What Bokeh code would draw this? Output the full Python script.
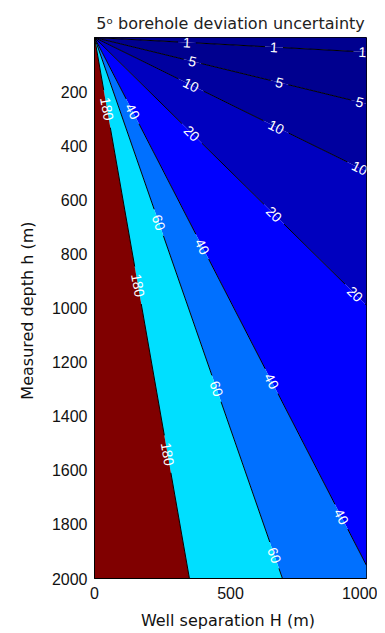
import math
from bokeh.plotting import figure
from bokeh.models import Range1d, FixedTicker
from bokeh.core.properties import value
from bokeh.embed import file_html
from bokeh.resources import INLINE

# ---- data ----
levels = [1, 5, 10, 20, 40, 60, 180]
# point where each contour line (starting at the origin) meets the frame
end_H = [1000, 1000, 1000, 1000, 1000, 691, 349]
end_h = [54, 245, 495, 990, 1952, 2000, 2000]
# fractions along each contour where its labels sit
label_pos = [
    [0.34, 0.66, 0.985],
    [0.36, 0.68, 0.975],
    [0.355, 0.668, 0.975],
    [0.358, 0.66, 0.958],
    [0.14, 0.396, 0.651, 0.9075],
    [0.342, 0.649, 0.957],
    [0.132, 0.458, 0.77],
]
region_colors = ["#00008F", "#00008F", "#00009F", "#0000BF", "#0000FF",
                 "#0070FF", "#00DFFF", "#800000"]
x_ticks = [0, 500, 1000]
y_ticks = [200, 400, 600, 800, 1000, 1200, 1400, 1600, 1800, 2000]

H_max, h_max = 1000, 2000
FONT = "Liberation Sans"
FONT_WIDE = "DejaVu Sans"

W, HGT = 377, 632
ML, MR, MT, MB = 94, 11, 37, 54
frame_w = W - ML - MR
frame_h = HGT - MT - MB
sx = frame_w / H_max
sy = frame_h / h_max

p = figure(width=W, height=HGT,
           x_range=Range1d(0, H_max), y_range=Range1d(h_max, 0),
           output_backend="svg", toolbar_location=None,
           min_border_left=ML, min_border_right=MR,
           min_border_top=MT, min_border_bottom=MB,
           title="5\u1d52 borehole deviation uncertainty")
p.title.text_font = FONT_WIDE
p.title.text_font_size = "16px"
p.title.text_font_style = "normal"
p.title.text_color = "#222222"
p.title.align = "center"
p.title.standoff = 10

p.xgrid.visible = False
p.ygrid.visible = False
p.outline_line_color = "black"
p.outline_line_width = 1
p.background_fill_color = "white"
p.border_fill_color = "white"


# ---- filled regions between the contour lines ----
def perim(H, h):
    if H >= H_max:
        return h
    return h_max + (H_max - H)


def point(s):
    if s <= h_max:
        return (H_max, s)
    return (H_max - (s - h_max), h_max)


s_bounds = [0.0] + [perim(a, b) for a, b in zip(end_H, end_h)] + [float(h_max + H_max)]
xs_reg, ys_reg = [], []
for k in range(len(s_bounds) - 1):
    sa, sb = s_bounds[k], s_bounds[k + 1]
    pts = [(0, 0), point(sa)]
    if sa < h_max < sb:
        pts.append((H_max, h_max))
    pts.append(point(sb))
    xs_reg.append([q[0] for q in pts])
    ys_reg.append([q[1] for q in pts])
p.patches(xs_reg, ys_reg, fill_color=region_colors, line_color=None)

# ---- contour lines with gaps for labels ----
xs_l, ys_l = [], []
lx, ly, lt, la = [], [], [], []
for lev, eH, eh, fr in zip(levels, end_H, end_h, label_pos):
    L = math.hypot(eH * sx, eh * sy)
    txt = str(lev)
    half = (len(txt) * 5 + 4) / L
    cuts = [0.0]
    for t in fr:
        cuts += [t - half, t + half]
    cuts.append(1.0)
    for i in range(0, len(cuts), 2):
        a, b = cuts[i], min(cuts[i + 1], 1.0)
        if b > a:
            xs_l.append([a * eH, b * eH])
            ys_l.append([a * eh, b * eh])
    ang = -math.atan2(eh * sy, eH * sx)
    for t in fr:
        lx.append(t * eH)
        ly.append(t * eh)
        lt.append(txt)
        la.append(ang)
p.multi_line(xs_l, ys_l, line_color="black", line_width=1)
p.text(lx, ly, text=lt, angle=la, text_align="center", text_baseline="middle",
       text_color="white", text_font=value(FONT), text_font_size="14px")

# ---- axes ----
for ax in (p.xaxis[0], p.yaxis[0]):
    ax.axis_line_color = "black"
    ax.major_tick_in = 0
    ax.major_tick_out = 0
    ax.minor_tick_line_color = None
    ax.major_label_text_font = FONT
    ax.major_label_text_font_size = "16px"
    ax.major_label_text_color = "#111111"
    ax.axis_label_text_font = FONT_WIDE
    ax.axis_label_text_font_size = "16px"
    ax.axis_label_text_font_style = "normal"
    ax.axis_label_text_color = "#111111"

p.xaxis.ticker = FixedTicker(ticks=x_ticks)
p.yaxis.ticker = FixedTicker(ticks=y_ticks)
p.xaxis.axis_label = "Well separation  H (m)"
p.yaxis.axis_label = "Measured depth  h (m)"
p.xaxis.major_label_standoff = 8
p.xaxis.axis_label_standoff = 9
p.yaxis.major_label_standoff = 7
p.yaxis.axis_label_standoff = 12

open("out.html", "w").write(file_html(p, INLINE))
